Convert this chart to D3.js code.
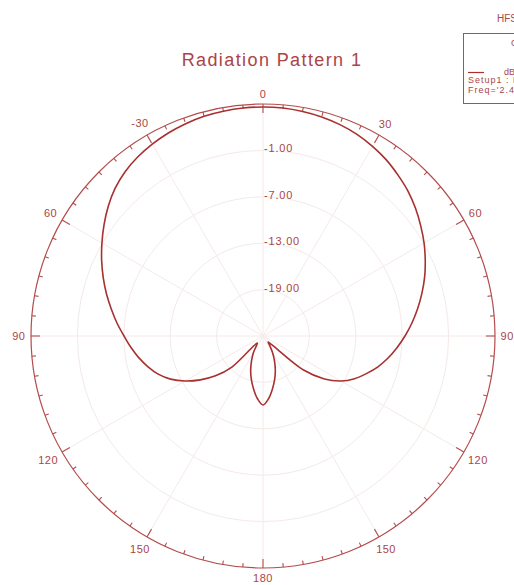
<!DOCTYPE html>
<html>
<head>
<meta charset="utf-8">
<script src="https://cdn.jsdelivr.net/npm/d3@7/dist/d3.min.js"></script>
<style>
  html, body { margin: 0; padding: 0; background: #ffffff; }
  svg { display: block; font-family: "Liberation Sans", Arial, sans-serif; }
</style>
</head>
<body>
<svg id="chart" width="514" height="585"></svg>
<script>
// Antenna gain (dB) sampled every 5 degrees, theta measured clockwise from 0 (top)
const thetaDeg = [
  -180, -175, -170, -165, -160, -155, -150, -145, -140, -135, -130, -125,
  -120, -115, -110, -105, -100, -95, -90, -85, -80, -75, -70, -65,
  -60, -55, -50, -45, -40, -35, -30, -25, -20, -15, -10, -5,
  0, 5, 10, 15, 20, 25, 30, 35, 40, 45, 50, 55,
  60, 65, 70, 75, 80, 85, 90, 95, 100, 105, 110, 115,
  120, 125, 130, 135, 140, 145, 150, 155, 160, 165, 170, 175
];
const gainDb = [
  -16.08, -16.85, -18.02, -19.18, -20.34, -21.51, -22.54, -23.58, -23.84, -19.31, -16.98, -15.11,
  -13.36, -11.81, -10.58, -9.61, -8.71, -7.87, -7.03, -6.06, -5.09, -4.05, -3.02, -1.98,
  -0.95, 0.09, 1.12, 2.03, 2.74, 3.25, 3.64, 3.97, 4.22, 4.42, 4.52, 4.59,
  4.61, 4.59, 4.48, 4.33, 4.09, 3.77, 3.32, 2.80, 2.16, 1.51, 0.73, -0.11,
  -0.95, -1.85, -2.76, -3.73, -4.70, -5.67, -6.64, -7.61, -8.58, -9.61, -10.78, -11.94,
  -13.36, -15.30, -18.15, -23.45, -23.97, -23.45, -22.54, -21.51, -20.34, -19.18, -18.02, -16.85
];

// Radial axis
const radialDomain = [-25, 5];
const ringValues = [-19, -13, -7, -1];
const ringLabels = ["-19.00", "-13.00", "-7.00", "-1.00"];

// Angular axis
const spokeAngles = [0, 30, 60, 90, 120, 150, 180, 210, 240, 270, 300, 330];
const spokeLabels = ["0", "30", "60", "90", "120", "150", "180", "150", "120", "90", "60", "-30"];

// Legend / titles
const titleText = "Radiation Pattern 1";
const projectText = "HFSSDesign1";
const legendHeader = "Curve Info";
const legendTrace = "dB(GainTotal)";
const legendLines = ["Setup1 : LastAdaptive", "Freq='2.4GHz' Phi='0deg'"];

const cx = 263, cy = 336, R = 232;
const lineColor = "#a8302f";
const axisColor = "#b44c4c";
const gridColor = "#f4eae8";
const textColor = "#aa4545";

const svg = d3.select("#chart");
const rad = d => d * Math.PI / 180;
const r = d3.scaleLinear().domain(radialDomain).range([0, R]).clamp(true);

// Title
svg.append("text")
  .attr("x", 272).attr("y", 66)
  .attr("text-anchor", "middle")
  .attr("font-size", 18).attr("letter-spacing", 1.4)
  .attr("fill", textColor)
  .text(titleText);

const g = svg.append("g").attr("transform", `translate(${cx},${cy})`);

// Grid rings
g.selectAll("circle.ring").data(ringValues).join("circle")
  .attr("class", "ring")
  .attr("r", d => r(d))
  .attr("fill", "none").attr("stroke", gridColor).attr("stroke-width", 1);

// Spokes
g.selectAll("line.spoke").data(spokeAngles).join("line")
  .attr("class", "spoke")
  .attr("x1", 0).attr("y1", 0)
  .attr("x2", d => R * Math.sin(rad(d)))
  .attr("y2", d => -R * Math.cos(rad(d)))
  .attr("stroke", gridColor).attr("stroke-width", 1);

// Outer circle
g.append("circle").attr("r", R)
  .attr("fill", "none").attr("stroke", axisColor).attr("stroke-width", 1.2);

// Tick marks every 5 degrees, longer at each spoke
const tickAngles = d3.range(0, 360, 5);
g.selectAll("line.tick").data(tickAngles).join("line")
  .attr("class", "tick")
  .attr("x1", d => R * Math.sin(rad(d)))
  .attr("y1", d => -R * Math.cos(rad(d)))
  .attr("x2", d => (R - (d % 30 === 0 ? 9 : 4)) * Math.sin(rad(d)))
  .attr("y2", d => -(R - (d % 30 === 0 ? 9 : 4)) * Math.cos(rad(d)))
  .attr("stroke", axisColor).attr("stroke-width", 1.1);

// Angle labels
g.selectAll("text.ang").data(spokeAngles).join("text")
  .attr("class", "ang")
  .each(function (d, i) {
    const label = spokeLabels[i];
    const hw = label.length * 3.1, hh = 4;
    const rr = R + 6 + hw * Math.abs(Math.sin(rad(d))) + hh * Math.abs(Math.cos(rad(d)));
    d3.select(this)
      .attr("x", rr * Math.sin(rad(d)))
      .attr("y", -rr * Math.cos(rad(d)))
      .text(label);
  })
  .attr("text-anchor", "middle")
  .attr("dominant-baseline", "central")
  .attr("font-size", 11).attr("letter-spacing", 0.5)
  .attr("fill", textColor);

// Ring value labels along the vertical axis
g.selectAll("text.ringlab").data(ringValues).join("text")
  .attr("class", "ringlab")
  .attr("x", 1)
  .attr("y", d => -r(d) + 2)
  .attr("font-size", 11).attr("letter-spacing", 0.8)
  .attr("fill", textColor)
  .text((d, i) => ringLabels[i]);

// Pattern trace
const pts = thetaDeg.map((t, i) => ({ t, v: gainDb[i] }));
const trace = d3.lineRadial()
  .angle(d => rad(d.t))
  .radius(d => r(d.v))
  .curve(d3.curveCatmullRomClosed.alpha(0.5));
g.append("path")
  .attr("d", trace(pts))
  .attr("fill", "none")
  .attr("stroke", lineColor)
  .attr("stroke-width", 1.6);

// Legend (runs off the right edge)
const lg = svg.append("g").attr("font-size", 9).attr("fill", textColor);
lg.append("text").attr("x", 497).attr("y", 22).attr("font-size", 10).text(projectText);
lg.append("rect")
  .attr("x", 463.5).attr("y", 33.5).attr("width", 120).attr("height", 70)
  .attr("fill", "#ffffff").attr("stroke", axisColor).attr("stroke-width", 1);
lg.append("text").attr("x", 511).attr("y", 46).text(legendHeader);
lg.append("line")
  .attr("x1", 468).attr("x2", 484).attr("y1", 72.5).attr("y2", 72.5)
  .attr("stroke", lineColor).attr("stroke-width", 1.2);
lg.append("text").attr("x", 504).attr("y", 74.5).text(legendTrace);
lg.selectAll("text.ll").data(legendLines).join("text")
  .attr("class", "ll")
  .attr("x", 468).attr("y", (d, i) => 83 + i * 10)
  .attr("letter-spacing", 1)
  .text(d => d);
</script>
</body>
</html>
